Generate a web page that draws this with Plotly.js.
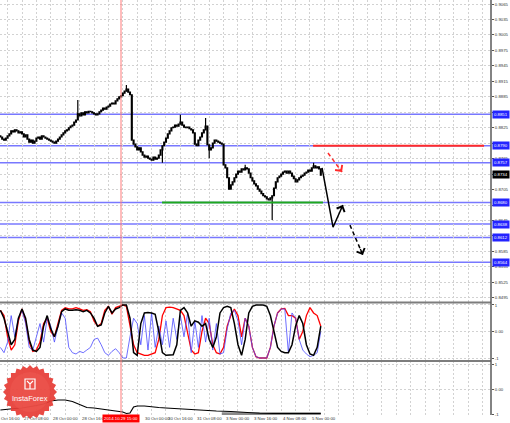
<!DOCTYPE html>
<html><head><meta charset="utf-8">
<script src="https://cdn.plot.ly/plotly-3.0.1.min.js"></script>
<style>html,body{margin:0;padding:0;background:#fff;}#chart{width:510px;height:423px;}</style>
</head><body><div id="chart"></div>
<script>
// ---------------- data ----------------
// bar index 0 = 26 Oct 16:00 (H1 bars, weekend skipped)
const firstBar = 4;
const firstOpen = 0.8809;
const closes = [
0.8807,0.8803,0.8801,0.8805,0.8809,0.8813,0.8819,0.8817,0.8821,0.8819,
0.8815,0.8817,0.8813,0.8807,0.8811,0.8803,0.8797,0.8801,0.8795,0.8799,
0.8805,0.8807,0.8803,0.8809,0.8807,0.8805,0.8803,0.8801,0.8799,0.8797,
0.8795,0.8799,0.8803,0.8807,0.8811,0.8815,0.8819,0.8821,0.8825,0.8828,
0.8830,0.8836,0.8840,0.8852,0.8848,0.8854,0.8850,0.8856,0.8854,0.8857,
0.8856,0.8854,0.8852,0.8850,0.8852,0.8856,0.8859,0.8863,0.8861,0.8865,
0.8867,0.8871,0.8873,0.8871,0.8877,0.8881,0.8885,0.8887,0.8892,0.8896,
0.8900,0.8894,0.8889,0.8801,0.8793,0.8788,0.8782,0.8786,0.8778,0.8772,
0.8768,0.8770,0.8766,0.8764,0.8762,0.8768,0.8764,0.8766,0.8772,0.8782,
0.8790,0.8797,0.8805,0.8813,0.8819,0.8825,0.8826,0.8830,0.8828,0.8832,
0.8836,0.8830,0.8826,0.8825,0.8826,0.8823,0.8821,0.8815,0.8793,0.8790,
0.8801,0.8807,0.8815,0.8821,0.8828,0.8792,0.8782,0.8786,0.8795,0.8801,
0.8799,0.8797,0.8795,0.8793,0.8753,0.8747,0.8728,0.8706,0.8714,0.8720,
0.8728,0.8735,0.8741,0.8739,0.8745,0.8743,0.8747,0.8745,0.8737,0.8728,
0.8722,0.8716,0.8712,0.8706,0.8702,0.8697,0.8693,0.8691,0.8687,0.8685,
0.8689,0.8693,0.8708,0.8720,0.8728,0.8731,0.8735,0.8739,0.8741,0.8737,
0.8741,0.8737,0.8731,0.8726,0.8720,0.8724,0.8728,0.8731,0.8733,0.8737,
0.8739,0.8743,0.8741,0.8747,0.8751,0.8747,0.8749,0.8745,0.8733];
const spikeHighBars = [47, 74, 104, 118, 140, 178];
const spikeHighVals = [0.8879, 0.8908, 0.8850, 0.8844, 0.8753, 0.8757];
const spikeLowBars = [94, 120, 155];
const spikeLowVals = [0.8757, 0.8766, 0.8646];

const levels = [0.8851, 0.8790, 0.8757, 0.8680, 0.8638, 0.8612, 0.8564];
const currentPrice = 0.8734;
const priceTicks = [0.9065,0.9035,0.9005,0.8975,0.8945,0.8915,0.8885,0.8855,0.8825,0.8795,
                    0.8765,0.8735,0.8705,0.8675,0.8645,0.8615,0.8585,0.8555,0.8525,0.8495];

const redLineBars = [177.7, 272.7];   const redLinePrice = 0.8790;
const greenLineBars = [93.8, 183.2];  const greenLinePrice = 0.8680;
const projSolidBars = [182.7, 188.8, 194.3]; const projSolidPrices = [0.8747, 0.8632, 0.8675];
const projDashBars = [198.2, 205.4];  const projDashPrices = [0.8636, 0.8578];
const redArrowBars = [186.0, 193.8];  const redArrowPrices = [0.8776, 0.8739];

// oscillator (every 2nd bar from bar 4 to 182)
const oscStep = 2;
const oscBlack = [
0.8,0.5,0.0,-0.5,-0.3,0.5,0.85,0.5,-0.3,-0.7,
-0.75,-0.6,0.2,0.6,0.1,-0.2,0.2,0.75,0.85,0.8,
0.8,0.82,0.8,0.75,0.8,0.7,0.5,0.2,0.25,0.7,
0.95,0.7,0.85,0.9,1.0,1.0,0.5,-0.8,-0.9,0.3,
0.7,0.72,0.7,0.65,0.0,-0.8,-0.9,-0.9,-0.88,-0.5,
0.8,0.9,0.7,0.2,0.4,0.35,0.2,0.3,-0.3,-0.6,
-0.2,0.7,0.9,0.95,0.9,0.3,-0.5,-0.9,-0.3,0.7,
0.95,1.0,1.0,1.0,0.95,0.6,0.0,-0.6,-0.75,-0.8,
-0.8,-0.5,0.2,0.6,0.3,-0.5,-0.85,-0.9,-0.6,0.2];
const oscRed = [
0.8,0.6,-0.2,-0.7,-0.5,0.4,0.85,0.4,-0.4,-0.75,
-0.7,-0.4,0.3,0.5,0.0,-0.2,0.3,0.8,0.9,0.85,
0.85,0.9,0.85,0.8,0.82,0.75,0.4,0.2,0.3,0.8,
0.95,0.65,0.9,0.95,1.0,0.95,0.2,-0.5,-0.8,-0.85,
-0.9,-0.9,-0.85,-0.8,-0.3,0.6,0.9,0.92,0.9,0.85,
0.8,0.6,-0.1,-0.7,-0.85,-0.8,0.0,0.5,0.3,-0.5,
-0.8,-0.85,-0.6,0.2,0.6,0.85,0.6,-0.2,0.5,0.2,
-0.6,-0.95,-1.0,-1.0,-1.0,-0.6,0.2,0.7,0.85,0.87,
0.6,0.6,0.5,-0.3,0.0,0.6,0.9,0.7,0.6,0.2];
const oscBlue = [
-0.6,-0.8,-0.4,0.6,-0.2,0.5,0.8,0.3,-0.6,-0.7,
-0.2,0.3,-0.4,0.5,0.2,-0.4,0.2,0.7,0.5,-0.6,
-0.8,-0.85,-0.75,-0.8,-0.7,-0.6,-0.3,-0.25,-0.5,-0.8,
-0.9,-0.75,-0.65,-0.8,-1.0,-1.0,-0.2,0.5,0.3,-0.5,
0.6,-0.7,0.7,-0.6,0.2,-0.5,0.4,-0.6,0.5,-0.3,
0.6,-0.2,0.7,-0.8,0.4,-0.6,0.6,-0.4,0.5,-0.7,
0.3,-0.85,-0.8,0.1,0.7,0.8,0.4,-0.5,0.5,0.2,
-0.6,-0.95,-1.0,-1.0,-1.0,-0.6,0.2,0.7,0.85,0.85,
-0.8,0.7,0.5,-0.3,-0.7,-0.85,-0.95,-0.9,-0.8,0.0];

// lower indicator
const lowerBars = [4,8,12,16,20,24,28,32,36,40,44,48,52,56,60,64,68,72,74,76,78,80,84,88,92,96,100,108,116,124,132,140,148,156,164,172,182];
const lowerVals = [-0.84,-0.8,-0.78,-0.76,-0.72,-0.66,-0.6,-0.48,-0.44,-0.44,-0.5,-0.62,-0.74,-0.76,-0.8,-0.82,-0.86,-0.92,-0.98,-0.96,-0.72,-0.68,-0.68,-0.72,-0.74,-0.76,-0.78,-0.8,-0.84,-0.88,-0.9,-0.94,-0.97,-0.98,-0.98,-0.98,-0.98];
const lowerGrayBars = [127, 182]; const lowerGrayVals = [-0.99, -0.99];

const timeTickBars = [0,16,32,48,80,96,112,128,144,160,176];
const timeTickText = ['26 Oct 16:00','27 Oct 08:00','28 Oct 00:00','28 Oct 16:00','30 Oct 00:00','30 Oct 16:00','31 Oct 08:00','3 Nov 00:00','3 Nov 16:00','4 Nov 08:00','5 Nov 00:00'];
const markerBar = 71; const markerText = '2014.10.29 15:00';

// ---------------- build ----------------
const W = 510, H = 423;
const FONT = 'Liberation Sans, Arial, sans-serif';
const FS = 4.3;
const xEnd = 491 / W;
const xRange = [3.78, 276.56];
const py = p => 1 - p / H; // pixel row -> paper
function barToPaper(b){ return xEnd * (b - xRange[0]) / (xRange[1] - xRange[0]); }

const bars = closes.map((_, k) => firstBar + k);
const opens = closes.map((c, k) => k === 0 ? firstOpen : closes[k - 1]);
const highs = closes.map((c, k) => Math.max(c, opens[k]));
const lows = closes.map((c, k) => Math.min(c, opens[k]));
spikeHighBars.forEach((b, j) => { highs[b - firstBar] = spikeHighVals[j]; });
spikeLowBars.forEach((b, j) => { lows[b - firstBar] = spikeLowVals[j]; });
const oscBars = oscBlack.map((_, k) => firstBar + k * oscStep);

const traces = [];
traces.push({type:'candlestick', x:bars, open:opens, high:highs, low:lows, close:closes,
  xaxis:'x', yaxis:'y', whiskerwidth:0, hoverinfo:'skip',
  increasing:{line:{color:'#000', width:1.2}, fillcolor:'#000'},
  decreasing:{line:{color:'#000', width:1.2}, fillcolor:'#000'}});
traces.push({type:'scatter', mode:'lines', x:redLineBars, y:[redLinePrice, redLinePrice],
  line:{color:'#ff2a2a', width:2}, xaxis:'x', yaxis:'y', hoverinfo:'skip'});
traces.push({type:'scatter', mode:'lines', x:greenLineBars, y:[greenLinePrice, greenLinePrice],
  line:{color:'#1fa81f', width:2}, xaxis:'x', yaxis:'y', hoverinfo:'skip'});
traces.push({type:'scatter', mode:'lines', x:projSolidBars, y:projSolidPrices,
  line:{color:'#000', width:1.5}, xaxis:'x', yaxis:'y', hoverinfo:'skip'});
traces.push({type:'scatter', mode:'lines', x:projDashBars, y:projDashPrices,
  line:{color:'#000', width:1.5, dash:'4px,3px'}, xaxis:'x', yaxis:'y', hoverinfo:'skip'});
traces.push({type:'scatter', mode:'lines', x:redArrowBars, y:redArrowPrices,
  line:{color:'#ff2a2a', width:1.5, dash:'4px,3px'}, xaxis:'x', yaxis:'y', hoverinfo:'skip'});

traces.push({type:'scatter', mode:'lines', x:oscBars, y:oscRed, line:{color:'#ff0000', width:1.3},
  xaxis:'x', yaxis:'y2', hoverinfo:'skip'});
traces.push({type:'scatter', mode:'lines', x:oscBars, y:oscBlue, line:{color:'#4b4bff', width:1},
  opacity:0.8, xaxis:'x', yaxis:'y2', hoverinfo:'skip'});
traces.push({type:'scatter', mode:'lines', x:oscBars, y:oscBlack, line:{color:'#000', width:1.5},
  xaxis:'x', yaxis:'y2', hoverinfo:'skip'});

traces.push({type:'scatter', mode:'lines', x:lowerGrayBars, y:lowerGrayVals, line:{color:'#8a8a8a', width:3},
  xaxis:'x', yaxis:'y3', hoverinfo:'skip'});
traces.push({type:'scatter', mode:'lines', x:lowerBars, y:lowerVals, line:{color:'#000', width:1.2},
  xaxis:'x', yaxis:'y3', hoverinfo:'skip'});

const gridc = '#d2d2d2';
const tickFont = {family:FONT, size:FS, color:'#333'};
const vgrid = []; for (let b = 0; b <= 280; b += 8) vgrid.push(b);
// tick labels hidden behind a price box are left blank (the box covers them)
const covered = v => levels.concat([currentPrice]).some(l => Math.abs(l - v) < 0.0006);
const priceTickText = priceTicks.map(v => covered(v) ? '' : v.toFixed(4));

const shapes = [];
levels.forEach(v => shapes.push({type:'line', xref:'paper', yref:'y', x0:0, x1:xEnd, y0:v, y1:v,
  layer:'between', line:{color:'#7878ff', width:1.5}}));
// panel separators and right axis
[302.5, 361].forEach(p => shapes.push({type:'line', xref:'paper', yref:'paper', x0:0, x1:xEnd,
  y0:py(p), y1:py(p), line:{color:'#7d7d7d', width:2}}));
shapes.push({type:'line', xref:'paper', yref:'paper', x0:xEnd, x1:xEnd, y0:py(415), y1:1,
  line:{color:'#5a5a5a', width:1.5}});
shapes.push({type:'line', xref:'x', yref:'paper', x0:markerBar, x1:markerBar, y0:py(415), y1:1,
  line:{color:'#ff7b7b', width:1}});
// InstaForex badge
(function(){
  const cx = 30, cy = 392, R = 27, r = 24, n = 24;
  let d = '';
  for (let k = 0; k < 2 * n; k++) {
    const a = Math.PI * k / n - Math.PI / 2;
    const rad = k % 2 === 0 ? R : r;
    const X = (cx + rad * Math.cos(a)) / W, Y = py(cy + rad * Math.sin(a));
    d += (k === 0 ? 'M' : 'L') + X.toFixed(5) + ',' + Y.toFixed(5);
  }
  shapes.push({type:'path', xref:'paper', yref:'paper', path:d + 'Z', fillcolor:'#e63c36',
    line:{width:0}, opacity:0.93});
  shapes.push({type:'circle', xref:'paper', yref:'paper', x0:(cx-20)/W, x1:(cx+20)/W, y0:py(cy+20), y1:py(cy-20),
    fillcolor:'#ee5a52', line:{width:0}, opacity:0.5});
  shapes.push({type:'rect', xref:'paper', yref:'paper', x0:(cx-5)/W, x1:(cx+5)/W, y0:py(389), y1:py(379),
    line:{color:'#fff', width:1.2}, fillcolor:'rgba(0,0,0,0)'});
  shapes.push({type:'path', xref:'paper', yref:'paper',
    path:'M'+((cx-3)/W)+','+py(381)+'L'+(cx/W)+','+py(384)+'L'+((cx+3)/W)+','+py(381)+'M'+(cx/W)+','+py(384)+'L'+(cx/W)+','+py(389),
    line:{color:'#fff', width:1.2}});
})();

const annotations = [];
levels.forEach(v => annotations.push({xref:'paper', yref:'y', x:xEnd + 1/W, y:v, xanchor:'left', yanchor:'middle',
  text:v.toFixed(4), showarrow:false, bgcolor:'#2424ff', font:{family:FONT, size:FS, color:'#fff'}, borderpad:1}));
annotations.push({xref:'paper', yref:'y', x:xEnd + 1/W, y:currentPrice, xanchor:'left', yanchor:'middle',
  text:currentPrice.toFixed(4), showarrow:false, bgcolor:'#000', font:{family:FONT, size:FS, color:'#fff'}, borderpad:1});
timeTickBars.forEach((b, j) => annotations.push({xref:'paper', yref:'paper', x:barToPaper(b), y:py(418.5),
  xanchor:'left', yanchor:'middle', text:timeTickText[j], showarrow:false, xshift:(b === 80 ? 6 : 0),
  font:{family:FONT, size:FS, color:'#333'}}));
annotations.push({xref:'x', yref:'paper', x:markerBar, y:py(418.5), xanchor:'center', yanchor:'middle',
  text:markerText, showarrow:false, bgcolor:'#ff0000', font:{family:FONT, size:FS, color:'#fff'}, borderpad:1});
annotations.push({xref:'paper', yref:'paper', x:30/W, y:py(398.5), xanchor:'center', yanchor:'middle',
  text:'InstaForex', showarrow:false, font:{family:FONT, size:7.5, color:'#fff'}});
// arrow heads
function head(xs, ys, color){
  const n = xs.length;
  const x = xs[n-1], y = ys[n-1];
  const ax = x - 0.25 * (x - xs[n-2]), ay = y - 0.25 * (y - ys[n-2]);
  annotations.push({xref:'x', yref:'y', axref:'x', ayref:'y', x:x, y:y, ax:ax, ay:ay, text:'',
    showarrow:true, arrowhead:4, arrowsize:1.3, arrowwidth:1.3, arrowcolor:color, standoff:0});
}
head(projSolidBars, projSolidPrices, '#000');
head(projDashBars, projDashPrices, '#000');
head(redArrowBars, redArrowPrices, '#ff2a2a');

const layout = {
  width:W, height:H, margin:{l:0, r:0, t:0, b:0},
  paper_bgcolor:'#fff', plot_bgcolor:'#fff', showlegend:false,
  xaxis:{domain:[0, xEnd], range:xRange, anchor:'y3', tickmode:'array', tickvals:vgrid,
    showticklabels:false, ticks:'', showgrid:true, gridcolor:gridc, griddash:'2px,2px', gridwidth:1,
    zeroline:false, showline:false, rangeslider:{visible:false}, fixedrange:true},
  yaxis:{domain:[py(302), 1], range:[0.84869, 0.90728], side:'right', anchor:'x', tickmode:'array',
    tickvals:priceTicks, ticktext:priceTickText, tickfont:tickFont,
    ticks:'outside', ticklen:2, tickcolor:'#555', showgrid:true, gridcolor:gridc, griddash:'2px,2px',
    zeroline:false, showline:false, fixedrange:true},
  yaxis2:{domain:[py(361), py(303)], range:[-1.113, 1.075], side:'right', anchor:'x', tickmode:'array',
    tickvals:[1, 0, -1], ticktext:['1', '0.00', '-1'], tickfont:tickFont, ticks:'outside', ticklen:2,
    tickcolor:'#555', showgrid:true, gridcolor:gridc, griddash:'2px,2px', zeroline:false, showline:false, fixedrange:true},
  yaxis3:{domain:[py(415), py(361)], range:[-1.04, 1.12], side:'right', anchor:'x', tickmode:'array',
    tickvals:[1, 0, -1], ticktext:['1', '0.00', '-1'], tickfont:tickFont, ticks:'outside', ticklen:2,
    tickcolor:'#555', showgrid:true, gridcolor:gridc, griddash:'2px,2px', zeroline:false, showline:false, fixedrange:true},
  shapes:shapes, annotations:annotations
};
Plotly.newPlot('chart', traces, layout, {staticPlot:true, displayModeBar:false});
</script></body></html>
